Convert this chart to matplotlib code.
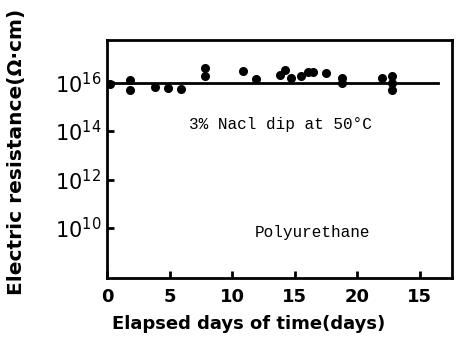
import matplotlib
matplotlib.use("Agg")
import matplotlib.pyplot as plt
import numpy as np

# Data (days, log10 of resistance)
days = [0.2, 1.85, 1.85, 3.8, 4.9, 5.9, 7.85, 7.85, 10.85, 11.9, 13.8, 14.2,
        14.75, 15.5, 16.1, 16.5, 17.5, 18.8, 18.8, 22.0, 22.8, 22.8, 22.8]
log_res = [15.94, 16.10, 15.69, 15.83, 15.76, 15.72, 16.59, 16.28, 16.47, 16.14,
           16.31, 16.52, 16.17, 16.28, 16.45, 16.43, 16.38, 16.19, 15.98, 16.17,
           16.27, 15.98, 15.69]
fit_days = [0, 26.5]
fit_log = [15.97, 15.97]

xtick_labels_all = ["0", "5", "10", "15", "20", "15"]
xtick_pos_all = [0, 5, 10, 15, 20, 25]
yticks_exp = [10, 12, 14, 16]

fig = plt.figure(figsize=(4.58, 3.41), dpi=100)
ax = fig.add_axes([107/458, 1-278/341, (452-107)/458, (278-40)/341])

res = [10**v for v in log_res]
ax.plot(days, res, 'o', color='black', markersize=5.5, zorder=3)
ax.plot(fit_days, [10**v for v in fit_log], '-', color='black', linewidth=2, zorder=2)

ax.set_yscale('log')
ax.set_ylim(10**7.94, 10**17.75)
ax.set_xlim(0, 27.6)

ax.set_yticks([10**e for e in yticks_exp])
ax.set_yticklabels([rf"$\mathregular{{10^{{{e}}}}}$" for e in yticks_exp], fontsize=15)
ax.yaxis.set_minor_locator(matplotlib.ticker.NullLocator())
ax.set_xticks(xtick_pos_all)
ax.set_xticklabels(xtick_labels_all, fontsize=13, fontweight='bold')
ax.tick_params(axis='both', direction='in', length=5, width=2)
ax.tick_params(axis='x', pad=7)
ax.tick_params(axis='y', pad=4)
for s in ax.spines.values():
    s.set_linewidth(2)

ax.set_xlabel("Elapsed days of time(days)", fontsize=13, fontweight='bold')
ax.xaxis.set_label_coords(0.41, -0.155)
ax.set_ylabel("Electric resistance(Ω·cm)", fontsize=14.5, fontweight='bold')
ax.yaxis.set_label_coords(-0.235, 0.53)

ax.text(0.504, 0.643, "3% Nacl dip at 50°C", transform=ax.transAxes, ha='center', va='center',
        fontsize=11.5, family='Liberation Mono')
ax.text(0.597, 0.193, "Polyurethane", transform=ax.transAxes, ha='center', va='center',
        fontsize=11.5, family='Liberation Mono')

fig.savefig("out.png", dpi=100)
